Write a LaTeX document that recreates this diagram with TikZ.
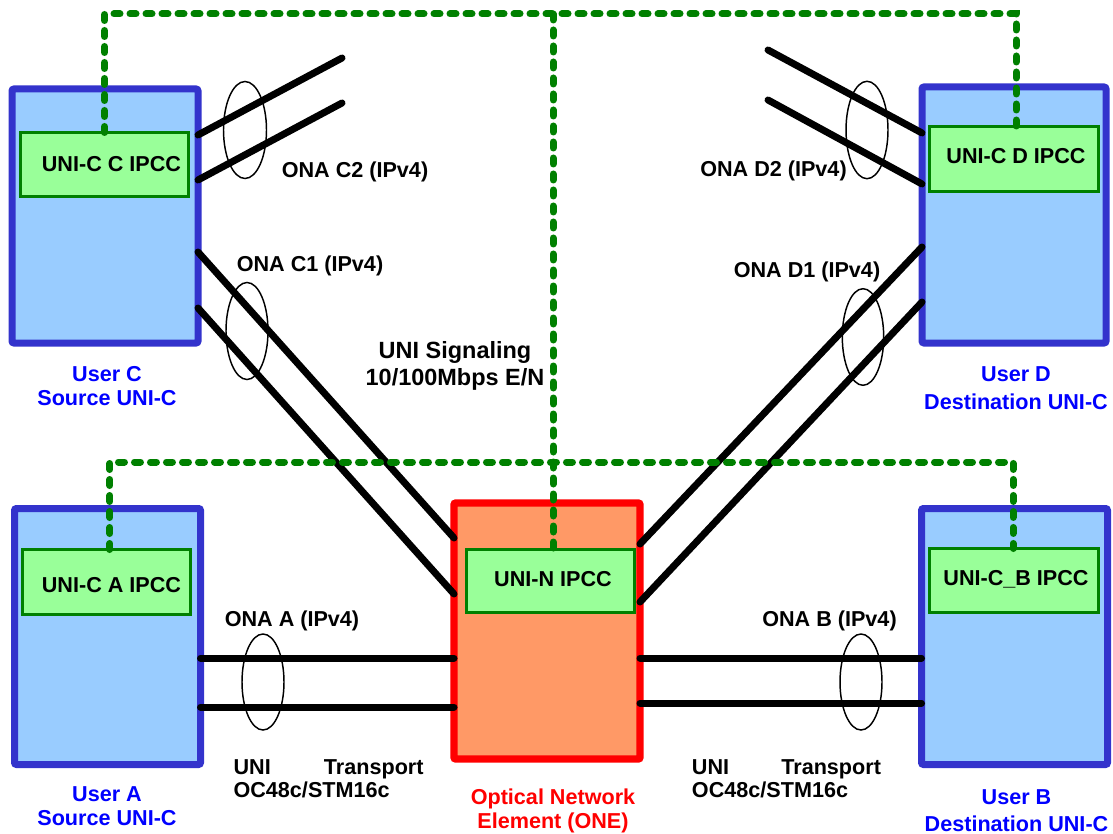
\documentclass[tikz,border=0pt]{standalone}
\usepackage{fontspec}
\setmainfont{Liberation Sans}
\definecolor{userblue}{RGB}{51,51,204}
\definecolor{userfill}{RGB}{153,204,255}
\definecolor{ipccfill}{RGB}{153,255,153}
\definecolor{ipccline}{RGB}{0,128,0}
\definecolor{onered}{RGB}{255,0,0}
\definecolor{onefill}{RGB}{255,153,102}
\definecolor{labelblue}{RGB}{0,0,255}

% two centred lines whose baseline is the first line's
\newcommand\twolines[2]{\begin{tabular}[t]{@{}c@{}}#1\\#2\end{tabular}}
% "UNI ... Transport" over the rate, left aligned
\newcommand\transportlabel[1]{\begin{tabular}[t]{@{}l@{}}\makebox[#1]{UNI\hfill Transport}\\OC48c/STM16c\end{tabular}}

\tikzset{
  userbox/.style={draw=userblue, fill=userfill, line width=5.25pt, rounded corners=1.5pt,
    inner sep=0pt, outer sep=0pt, minimum width=139.5pt, minimum height=192pt},
  onebox/.style={draw=onered, fill=onefill, line width=5.6pt, rounded corners=1.5pt,
    inner sep=0pt, outer sep=0pt, minimum width=139.5pt, minimum height=192pt},
  ipcc/.style={draw=ipccline, fill=ipccfill, line width=2.25pt,
    inner sep=0pt, outer sep=0pt, minimum width=126pt, minimum height=48.5pt},
  txt/.style={inner sep=0pt, anchor=base, font=\fontsize{16.2pt}{#1}\selectfont\bfseries},
  txt/.default=18pt,
  bigtxt/.style={inner sep=0pt, anchor=base, font=\fontsize{17.6pt}{#1}\selectfont\bfseries},
  bigtxt/.default=20.5pt,
  bluetxt/.style={txt=#1, text=labelblue},
  bluetxt/.default=18pt,
  redtxt/.style={txt=#1, text=onered},
  redtxt/.default=18pt,
  link/.style={line width=5.25pt, line cap=round},
  bundle/.style={line width=1.1pt},
  signal/.style={draw=ipccline, line width=5.25pt, line cap=round, dash pattern=on 4.5pt off 7.5pt},
}

\begin{document}
\begin{tikzpicture}[x=0.75pt, y=-0.75pt]
\useasboundingbox (0,0) rectangle (1113,834);

% user equipment and the optical network element
\node[userbox, minimum height=190.5pt] (userC) at (105,216) {};
\node[userbox, minimum width=138pt]    (userD) at (1014,215) {};
\node[userbox] (userA) at (107.5,636.5) {};
\node[userbox] (userB) at (1014.5,636.5) {};
\node[onebox]  (one)   at (547,631) {};

% IP control channel blocks
\node[ipcc, minimum height=48pt]                          (ipccC) at (104.5,164.5) {};
\node[ipcc, minimum width=126.75pt, minimum height=48.75pt] (ipccD) at (1014,159) {};
\node[ipcc, minimum height=48.75pt]                       (ipccA) at (106.5,582) {};
\node[ipcc, minimum width=126.75pt, minimum height=48pt]    (ipccB) at (1014,580.5) {};
\node[ipcc, minimum height=47.25pt]                       (ipccN) at (550.5,580.5) {};

\node[txt] (ipccCtext) at (111.5,171.7) {UNI-C C IPCC};
\node[txt] (ipccDtext) at (1016,163.3)  {UNI-C D IPCC};
\node[txt] (ipccAtext) at (111.5,592.3) {UNI-C A IPCC};
\node[txt] (ipccBtext) at (1016,585.7)  {UNI-C\_B IPCC};
\node[txt] (ipccNtext) at (553,586)     {UNI-N IPCC};

% free ends of the C2 / D2 links
\coordinate (c2aEnd) at (342,58);
\coordinate (c2bEnd) at (342,103);
\coordinate (d2aEnd) at (768,50);
\coordinate (d2bEnd) at (768,100);

% data links
\draw[link] (userC.east |- 0,135) -- (c2aEnd);
\draw[link] (userC.east |- 0,180) -- (c2bEnd);
\draw[link] (d2aEnd) -- (userD.west |- 0,133);
\draw[link] (d2bEnd) -- (userD.west |- 0,184);
\draw[link] (userC.east |- 0,252) -- (one.west |- 0,538);
\draw[link] (userC.east |- 0,308) -- (one.west |- 0,594);
\draw[link] (one.east |- 0,544) -- (userD.west |- 0,247);
\draw[link] (one.east |- 0,602) -- (userD.west |- 0,302);
\draw[link] (userA.east |- 0,658) -- (one.west |- 0,658);
\draw[link] (userA.east |- 0,707) -- (one.west |- 0,707);
\draw[link] (one.east |- 0,658) -- (userB.west |- 0,658);
\draw[link] (one.east |- 0,703) -- (userB.west |- 0,703);

% bundle rings
\draw[bundle] (245,130) ellipse [x radius=21.5, y radius=48.5];
\draw[bundle] (867,130) ellipse [x radius=21, y radius=48.7];
\draw[bundle] (247,331) ellipse [x radius=21, y radius=48.5];
\draw[bundle] (863,337) ellipse [x radius=20.7, y radius=48.3];
\draw[bundle] (263,682) ellipse [x radius=21, y radius=48];
\draw[bundle] (861,682) ellipse [x radius=21, y radius=48];

% link labels
\node[txt] (onaC2) at (355,177.7)   {ONA C2 (IPv4)};
\node[txt] (onaD2) at (773.5,176.7) {ONA D2 (IPv4)};
\node[txt] (onaC1) at (310,271.7)   {ONA C1 (IPv4)};
\node[txt] (onaD1) at (807,277.7)   {ONA D1 (IPv4)};
\node[txt] (onaA)  at (292,626)     {ONA A (IPv4)};
\node[txt] (onaB)  at (829.5,626)   {ONA B (IPv4)};
\node[bigtxt] (signaling) at (455,358.3) {\twolines{UNI Signaling}{10/100Mbps E/N}};
\node[txt=17.5pt, anchor=base west] (transportA) at (233.3,774.3) {\transportlabel{142.5pt}};
\node[txt=17.5pt, anchor=base west] (transportB) at (691.7,774)   {\transportlabel{141.75pt}};

% equipment labels
\node[bluetxt=18pt]   (userCname) at (107,381.7)   {\twolines{User C}{Source UNI-C}};
\node[bluetxt=20.6pt] (userDname) at (1016,381.7)  {\twolines{User D}{Destination UNI-C}};
\node[bluetxt=18pt]   (userAname) at (107,801.7)   {\twolines{User A}{Source UNI-C}};
\node[bluetxt=20.7pt] (userBname) at (1016.5,804)  {\twolines{User B}{Destination UNI-C}};
\node[redtxt=18pt]    (oneName)   at (553,804.3)   {\twolines{Optical Network}{Element (ONE)}};

% signalling network taps
\coordinate (tapC) at (ipccC.north);
\coordinate (tapD) at ([xshift=1.5pt]ipccD.north);
\coordinate (tapN) at ([xshift=1.9pt]ipccN.north);
\coordinate (tapA) at ([xshift=2.6pt]ipccA.north);
\coordinate (tapB) at ([xshift=-0.75pt]ipccB.north);

% UNI signalling (dashed)
\draw[signal] (tapC) -- (tapC |- 0,14) -- (tapD |- 0,14) -- (tapD);
\draw[signal] (tapN |- 0,14) -- (tapN);
\draw[signal] (tapA) -- (tapA |- 0,462) -- (tapB |- 0,462) -- (tapB);
\end{tikzpicture}
\end{document}
